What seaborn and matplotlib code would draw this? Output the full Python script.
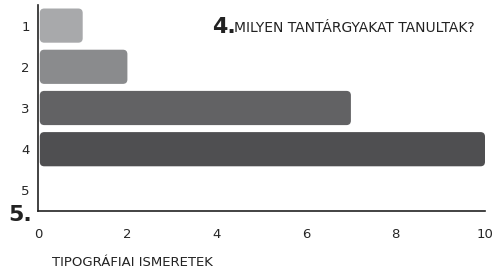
import pandas as pd
import seaborn as sns
import matplotlib.pyplot as plt
from matplotlib.patches import FancyBboxPatch

# Datos
categorias = ['1', '2', '3', '4', '5']
valores = [1, 2, 7, 10, 0]
colores = ['#a8a9ab', '#8a8b8d', '#626264', '#4f4f51', '#4f4f51']

df = pd.DataFrame({'cat': categorias, 'val': valores})

sns.set_style('white')
plt.rcParams['font.family'] = ['DejaVu Sans']

fig = plt.figure(figsize=(4.93, 2.72), dpi=100)
ax = fig.add_axes([38 / 493, 61 / 272, 447 / 493, 206 / 272])

sns.barplot(data=df, x='val', y='cat', hue='cat', palette=colores,
            legend=False, width=0.83, orient='h', ax=ax)

# Barras redondeadas
for p in list(ax.patches):
    x0, y0 = p.get_x(), p.get_y()
    w, h = p.get_width(), p.get_height()
    c = p.get_facecolor()
    p.remove()
    if w <= 0:
        continue
    ax.add_patch(FancyBboxPatch((x0 + 0.04, y0), w - 0.04, h,
                                boxstyle='round,pad=0,rounding_size=0.1',
                                mutation_aspect=1.09, facecolor=c,
                                edgecolor='none'))

ax.set_xlim(0, 10)
ax.set_ylim(4.5, -0.5)
ax.set_xticks([0, 2, 4, 6, 8, 10])
ax.tick_params(axis='x', direction='out', length=6, width=1, color='#222222',
               labelsize=9.5, pad=6)
ax.tick_params(axis='y', length=0, labelsize=9.5, pad=6)
for s in ['top', 'right']:
    ax.spines[s].set_visible(False)
for s in ['left', 'bottom']:
    ax.spines[s].set_color('#222222')
    ax.spines[s].set_linewidth(1.2)

ax.set_xlabel('')
ax.set_ylabel('')

fig.text(52 / 493, 1 - 262 / 272, 'TIPOGRÁFIAI ISMERETEK', fontsize=9.5,
         va='center', ha='left', color='#222222')
fig.text(212 / 493, 1 - 27 / 272, '4.', fontsize=16, fontweight='bold',
         va='center', ha='left', color='#222222')
fig.text(234 / 493, 1 - 28 / 272, 'MILYEN TANTÁRGYAKAT TANULTAK?', fontsize=10,
         va='center', ha='left', color='#222222')
fig.text(8 / 493, 1 - 215 / 272, '5.', fontsize=16, fontweight='bold',
         va='center', ha='left', color='#222222')

fig.savefig('out.png', dpi=100)
